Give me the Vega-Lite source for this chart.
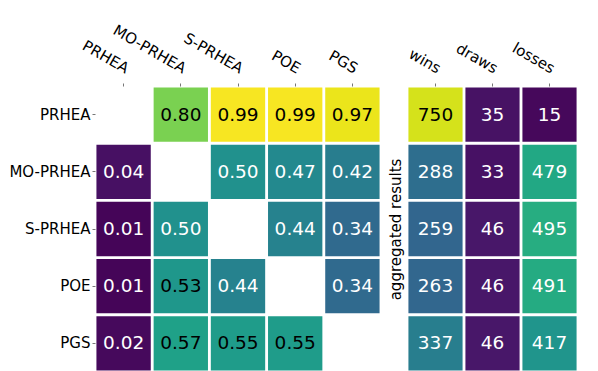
{
  "$schema": "https://vega.github.io/schema/vega-lite/v6.json",
  "background": "white",
  "padding": {"left": 8, "top": 22, "right": 5, "bottom": 0},
  "config": {
    "view": {"stroke": null},
    "font": "DejaVu Sans",
    "axis": {"labelFont": "DejaVu Sans", "titleFont": "DejaVu Sans", "labelFontSize": 15, "titleFontSize": 15, "titleFontWeight": "normal", "labelColor": "black", "titleColor": "black", "domain": false, "tickSize": 3, "tickColor": "#777777", "labelPadding": 2}
  },
  "datasets": {
    "pairs": [
      {"player": "PRHEA", "opponent": "MO-PRHEA", "value": 0.80},
      {"player": "PRHEA", "opponent": "S-PRHEA", "value": 0.99},
      {"player": "PRHEA", "opponent": "POE", "value": 0.99},
      {"player": "PRHEA", "opponent": "PGS", "value": 0.97},
      {"player": "MO-PRHEA", "opponent": "PRHEA", "value": 0.04},
      {"player": "MO-PRHEA", "opponent": "S-PRHEA", "value": 0.50},
      {"player": "MO-PRHEA", "opponent": "POE", "value": 0.47},
      {"player": "MO-PRHEA", "opponent": "PGS", "value": 0.42},
      {"player": "S-PRHEA", "opponent": "PRHEA", "value": 0.01},
      {"player": "S-PRHEA", "opponent": "MO-PRHEA", "value": 0.50},
      {"player": "S-PRHEA", "opponent": "POE", "value": 0.44},
      {"player": "S-PRHEA", "opponent": "PGS", "value": 0.34},
      {"player": "POE", "opponent": "PRHEA", "value": 0.01},
      {"player": "POE", "opponent": "MO-PRHEA", "value": 0.53},
      {"player": "POE", "opponent": "S-PRHEA", "value": 0.44},
      {"player": "POE", "opponent": "PGS", "value": 0.34},
      {"player": "PGS", "opponent": "PRHEA", "value": 0.02},
      {"player": "PGS", "opponent": "MO-PRHEA", "value": 0.57},
      {"player": "PGS", "opponent": "S-PRHEA", "value": 0.55},
      {"player": "PGS", "opponent": "POE", "value": 0.55}
    ],
    "agg": [
      {"player": "PRHEA", "result": "wins", "count": 750},
      {"player": "PRHEA", "result": "draws", "count": 35},
      {"player": "PRHEA", "result": "losses", "count": 15},
      {"player": "MO-PRHEA", "result": "wins", "count": 288},
      {"player": "MO-PRHEA", "result": "draws", "count": 33},
      {"player": "MO-PRHEA", "result": "losses", "count": 479},
      {"player": "S-PRHEA", "result": "wins", "count": 259},
      {"player": "S-PRHEA", "result": "draws", "count": 46},
      {"player": "S-PRHEA", "result": "losses", "count": 495},
      {"player": "POE", "result": "wins", "count": 263},
      {"player": "POE", "result": "draws", "count": 46},
      {"player": "POE", "result": "losses", "count": 491},
      {"player": "PGS", "result": "wins", "count": 337},
      {"player": "PGS", "result": "draws", "count": 46},
      {"player": "PGS", "result": "losses", "count": 417}
    ]
  },
  "hconcat": [
    {
      "width": 286,
      "height": 286,
      "data": {"name": "pairs"},
      "encoding": {
        "x": {"field": "opponent", "type": "nominal", "scale": {"domain": ["PRHEA", "MO-PRHEA", "S-PRHEA", "POE", "PGS"], "paddingInner": 0.05, "paddingOuter": 0.025}, "axis": {"orient": "top", "title": null, "labelAngle": 30, "labelAlign": "right", "labelBaseline": "bottom", "labelPadding": 7}},
        "y": {"field": "player", "type": "nominal", "scale": {"domain": ["PRHEA", "MO-PRHEA", "S-PRHEA", "POE", "PGS"], "paddingInner": 0.05, "paddingOuter": 0.025}, "axis": {"title": null}}
      },
      "layer": [
        {"mark": {"type": "rect"}, "encoding": {"color": {"field": "value", "type": "quantitative", "scale": {"scheme": "viridis", "domain": [0, 1]}, "legend": null}}},
        {"mark": {"type": "text", "fontSize": 18.5, "font": "DejaVu Sans"}, "encoding": {"text": {"field": "value", "type": "quantitative", "format": ".2f"}, "color": {"condition": {"test": "datum.value > 0.505", "value": "black"}, "value": "white"}}}
      ]
    },
    {
      "width": 171,
      "height": 286,
      "data": {"name": "agg"},
      "encoding": {
        "x": {"field": "result", "type": "nominal", "scale": {"domain": ["wins", "draws", "losses"], "paddingInner": 0.05, "paddingOuter": 0.025}, "axis": {"orient": "top", "title": null, "labelAngle": 30, "labelAlign": "right", "labelBaseline": "bottom", "labelPadding": 7}},
        "y": {"field": "player", "type": "nominal", "scale": {"domain": ["PRHEA", "MO-PRHEA", "S-PRHEA", "POE", "PGS"], "paddingInner": 0.05, "paddingOuter": 0.025}, "axis": {"title": "aggregated results", "labels": false, "ticks": false, "titlePadding": 4}}
      },
      "layer": [
        {"mark": {"type": "rect"}, "encoding": {"color": {"field": "count", "type": "quantitative", "scale": {"scheme": "viridis", "domain": [0, 800]}, "legend": null}}},
        {"mark": {"type": "text", "fontSize": 18.5, "font": "DejaVu Sans"}, "encoding": {"text": {"field": "count", "type": "quantitative", "format": "d"}, "color": {"condition": {"test": "datum.count > 600", "value": "black"}, "value": "white"}}}
      ]
    }
  ],
  "spacing": 7,
  "resolve": {"scale": {"color": "independent"}}
}
